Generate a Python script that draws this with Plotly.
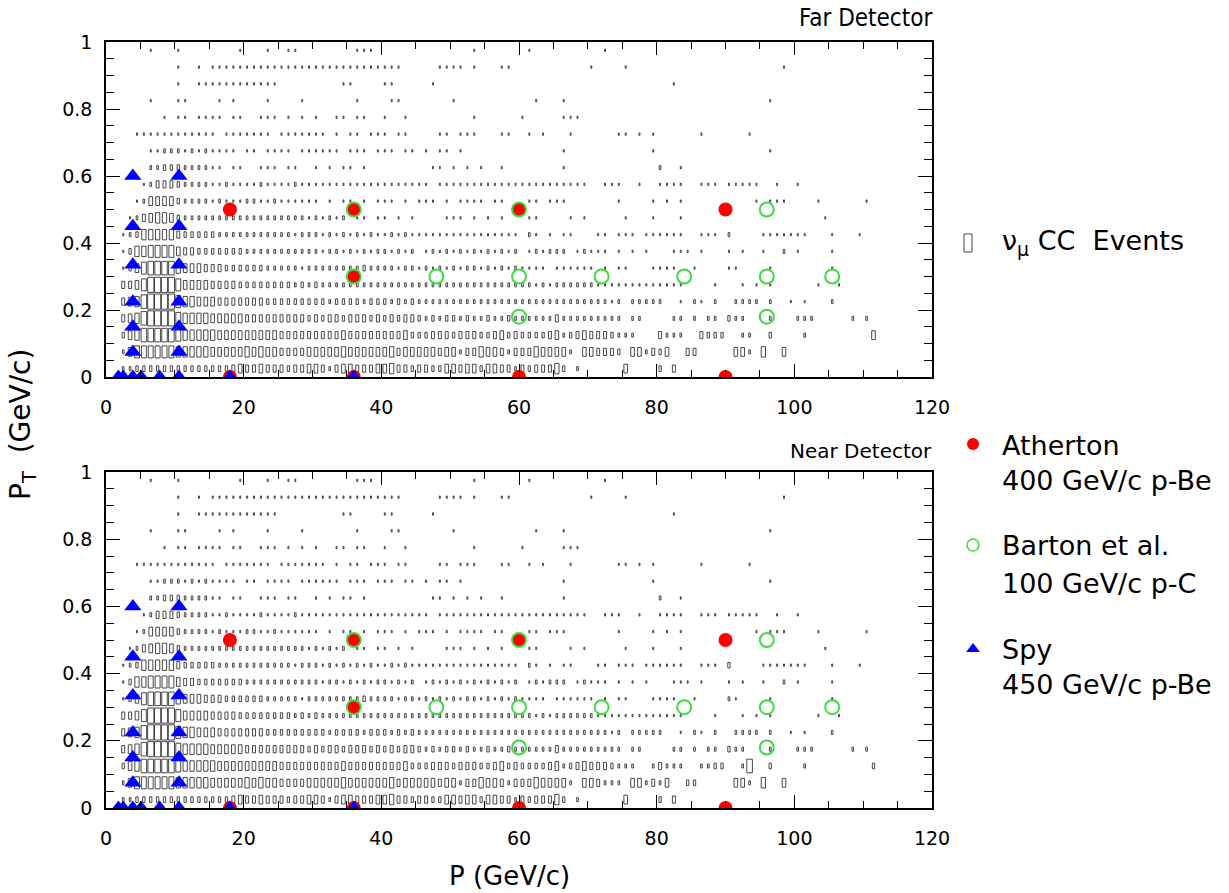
import plotly.graph_objects as go

W, H = 1229, 893
FONT = "DejaVu Sans"
COND_FONT = "DejaVu Sans Condensed, DejaVu Sans"

# ---------------- data ----------------
P_BIN = 1.0          # GeV/c per bin
PT_BIN = 0.05        # GeV/c per bin
N_P_BINS = 120

# Box sizes (0-9) of the nu_mu CC event histogram, Far Detector.
# One string per PT bin (row 0 = 0-0.05 GeV/c), one digit per 1 GeV/c P bin.
FAR_ROWS = [
    "0022333333 3333333345 4454443445 5424554445 5644344335 5455355442 4344463020 0000050000 3040000000 0000000000 0000000000 0000000000",
    "0025777777 6666655555 6565544445 5555655555 5645555545 5244655424 4465555205 5444305524 3500440000 0552060050 0000000000 0000000000",
    "0035688888 7666665555 5555544444 4444544444 4445333444 3444334534 3333452345 4443222000 4222004333 0022003000 0200000000 0500000000",
    "0045689999 7666655555 4444444443 4344344434 3434432323 3232232232 2222242222 2222202200 0022020220 3220002000 2220000020 2000000000",
    "0045689999 7665554444 4443333333 3323333233 3232322222 2222222222 2222222222 2221202222 2001021020 0222202001 0100020000 0000000000",
    "0044579999 7555544443 3333333232 3222222222 2222222222 2222222222 2212122222 2111111111 1111000010 0010101000 0001001000 0000000000",
    "0013578888 6555444333 3332222212 2222222322 2212212121 2122121212 1111011111 1010110001 1110010000 1100001000 0000010000 0000000000",
    "0013667777 5443333333 2222222222 2122121212 2121201212 1212121212 0121222012 1110101010 0011101000 1010010020 1000010000 0000000000",
    "0012366666 4333332222 2222222122 2121212121 1212111111 1111111111 0210101100 0110111011 1111001110 2000011111 1100010001 0000000000",
    "0001245665 3222222222 2222222221 2121201101 1010100001 1101010100 0110000101 0000010001 0001000000 0000000000 0000100000 0000000000",
    "0000125555 3222212111 2211211111 1010110101 1101011101 0111101100 0110111000 0000100001 0101000000 0000101110 0001000000 1000000000",
    "0000012444 3222211211 1121111211 1111111111 1111111011 1111111111 1111111111 0011100100 1111001110 1111100100 1000000000 0000000000",
    "0000002233 3222211011 0011101100 1010110100 0000000110 1010100100 0000001000 0000000000 2001000000 0000000000 0000000000 0000000000",
    "0000001122 2121211110 1101111011 1111011101 1101101011 0100000000 0000001000 0000000001 0000000000 0000001000 0000000000 0000000000",
    "0000111111 1111110111 1111011111 1101011011 1011000011 0111000110 0101000100 0000110101 0000001000 0001000000 0000000000 0000000000",
    "0000000010 1101111011 0011101010 1001101100 1001000000 0001000000 1000001110 0000000000 0000000000 0000000000 0000000000 0000000000",
    "0000001000 1100001010 0001000010 0000001000 0110000000 1000000000 0010001000 0000000000 0000000000 0000001000 0000000000 0000000000",
    "0000000000 1001111111 1111100000 0000110000 1100000100 0000000000 0000000000 0000000000 0010000000 0000000000 0000000000 0000000000",
    "0000000000 1001011111 1111111111 1111111111 1110000011 1101000110 0000000000 1000010000 0000000000 0000000010 0000000000 0000000000",
    "0000001000 1000000001 0001001100 0000001110 0000000000 0001000000 0100000000 0010000000 0000000000 0000000000 0000000000 0000000000",
]

# Near Detector histogram: same as far except these (PT row, P bin, size) cells
NEAR_OVERRIDES = [
    (1, 72, 2), (1, 73, 2), (1, 74, 2), (1, 80, 2), (1, 84, 3), (1, 85, 3),
    (2, 79, 2), (2, 86, 2), (2, 87, 2), (2, 93, 8), (2, 111, 3),
    (6, 90, 2), (7, 90, 1), (8, 90, 3),
]

ATHERTON_P = [18, 36, 60, 90, 36, 18, 36, 60, 90]
ATHERTON_PT = [0.5, 0.5, 0.5, 0.5, 0.3, 0.0, 0.0, 0.0, 0.0]

BARTON_P = [36, 60, 96, 36, 48, 60, 72, 84, 96, 105.5, 60, 96]
BARTON_PT = [0.5, 0.5, 0.5, 0.3, 0.3, 0.3, 0.3, 0.3, 0.3, 0.3, 0.18, 0.18]

SPY_P = [3.9, 3.9, 3.9, 3.9, 3.9, 3.9,
         10.6, 10.6, 10.6, 10.6, 10.6, 10.6,
         1.8, 2.5, 3.9, 5.1, 7.8, 10.6, 18, 36]
SPY_PT = [0.075, 0.15, 0.225, 0.335, 0.45, 0.6,
          0.075, 0.15, 0.225, 0.335, 0.45, 0.6,
          0, 0, 0, 0, 0, 0, 0, 0]

PANEL_TITLES = ["Far Detector", "Near Detector"]
LEGEND_LINES = [
    ["ν<sub>μ</sub> CC  Events"],
    ["Atherton", "400 GeV/c p-Be"],
    ["Barton et al.", "100 GeV/c p-C"],
    ["Spy", "450 GeV/c p-Be"],
]

# ---------------- helpers ----------------
def parse(rows):
    grid = []
    for r in rows:
        s = r.replace(" ", "")
        s = (s + "0" * N_P_BINS)[:N_P_BINS]
        grid.append([int(c) for c in s])
    return grid


far = parse(FAR_ROWS)
near = [row[:] for row in far]
for j, i, lev in NEAR_OVERRIDES:
    near[j][i] = lev


def box_fraction(lev):
    # fraction of the bin covered by a box of the given size class
    return 0.05 + 0.095 * lev


def box_path(grid):
    xs, ys = [], []
    for j, row in enumerate(grid):
        for i, lev in enumerate(row):
            if lev == 0:
                continue
            f = box_fraction(lev)
            xc = (i + 0.5) * P_BIN
            yc = (j + 0.5) * PT_BIN
            hw = 0.5 * P_BIN * f
            hh = 0.5 * PT_BIN * f
            xs += [xc - hw, xc + hw, xc + hw, xc - hw, xc - hw, None]
            ys += [yc - hh, yc - hh, yc + hh, yc + hh, yc - hh, None]
    return xs, ys


def px_x(px):
    return px / W


def px_y(py):
    return 1 - py / H


RED = "#ff0000"
GREEN = "#3fdc3f"
BLUE = "#0000ff"

fig = go.Figure()

for k, grid in enumerate([far, near]):
    xa = "x" if k == 0 else "x2"
    ya = "y" if k == 0 else "y2"
    bx, by = box_path(grid)
    fig.add_trace(go.Scatter(x=bx, y=by, mode="lines", xaxis=xa, yaxis=ya,
                             line=dict(color="#333333", width=0.9),
                             hoverinfo="skip", showlegend=False))
    fig.add_trace(go.Scatter(x=ATHERTON_P, y=ATHERTON_PT, mode="markers",
                             xaxis=xa, yaxis=ya, showlegend=False,
                             marker=dict(symbol="circle", size=14, color=RED,
                                         line=dict(width=0))))
    fig.add_trace(go.Scatter(x=BARTON_P, y=BARTON_PT, mode="markers",
                             xaxis=xa, yaxis=ya, showlegend=False,
                             marker=dict(symbol="circle-open", size=14,
                                         color=GREEN, line=dict(width=2, color=GREEN))))
    fig.add_trace(go.Scatter(x=SPY_P, y=SPY_PT, mode="markers",
                             xaxis=xa, yaxis=ya, showlegend=False,
                             marker=dict(symbol="triangle-up", size=15, color=BLUE,
                                         line=dict(width=0))))

# legend keys on an overlay axis in pixel units
KEY_X = 973
KEY_Y = [444, 545, 649]
key_styles = [
    dict(symbol="circle", size=12, color=RED, line=dict(width=0)),
    dict(symbol="circle-open", size=12, color=GREEN, line=dict(width=1.5, color=GREEN)),
    dict(symbol="triangle-up", size=12, color=BLUE, line=dict(width=0)),
]
for ky, st in zip(KEY_Y, key_styles):
    fig.add_trace(go.Scatter(x=[KEY_X], y=[ky], mode="markers", xaxis="x3", yaxis="y3",
                             marker=st, showlegend=False, hoverinfo="skip",
                             cliponaxis=False))

X_DOMAIN = [px_x(106), px_x(932)]
TOP_DOMAIN = [px_y(377), px_y(42)]
BOT_DOMAIN = [px_y(808), px_y(472)]

tickfont = dict(family=FONT, size=19, color="black")


def xaxis(anchor):
    return dict(domain=X_DOMAIN, anchor=anchor, range=[0, 120], tickmode="linear",
                tick0=0, dtick=20, ticks="inside", ticklen=13, tickwidth=1.2,
                tickcolor="black", showline=True, linecolor="black", linewidth=1.6,
                mirror="ticks", showgrid=False, zeroline=False, tickfont=tickfont,
                ticklabelstandoff=12, automargin=False,
                minor=dict(tick0=0, dtick=5, ticks="inside", ticklen=7,
                           tickcolor="black", tickwidth=1, showgrid=False))


def yaxis(anchor, domain):
    return dict(domain=domain, anchor=anchor, range=[0, 1], tickmode="linear",
                tick0=0, dtick=0.2, ticks="inside", ticklen=14, tickwidth=1.2,
                tickcolor="black", showline=True, linecolor="black", linewidth=1.6,
                mirror="ticks", showgrid=False, zeroline=False, tickfont=tickfont,
                ticklabelstandoff=8, automargin=False,
                minor=dict(tick0=0, dtick=0.05, ticks="inside", ticklen=8,
                           tickcolor="black", tickwidth=1, showgrid=False))


annotations = []
title_fonts = [dict(family=COND_FONT, size=24, color="black"),
               dict(family=FONT, size=20, color="black")]
for title, py, tf in zip(PANEL_TITLES, [18, 451], title_fonts):
    annotations.append(dict(text=title, x=px_x(934), y=px_y(py), xref="paper", yref="paper",
                            xanchor="right", yanchor="middle", showarrow=False, font=tf))
annotations.append(dict(text="P<sub>T</sub>  (GeV/c)", x=px_x(22), y=px_y(425),
                        xref="paper", yref="paper", textangle=-90, showarrow=False,
                        xanchor="center", yanchor="middle",
                        font=dict(family=FONT, size=28, color="black")))
annotations.append(dict(text="P (GeV/c)", x=px_x(510), y=px_y(876),
                        xref="paper", yref="paper", showarrow=False,
                        xanchor="center", yanchor="middle",
                        font=dict(family=FONT, size=26, color="black")))

legend_text_y = [[243], [445, 481], [545, 583], [649, 684]]
for lines, ys in zip(LEGEND_LINES, legend_text_y):
    for txt, py in zip(lines, ys):
        annotations.append(dict(text=txt, x=px_x(1000), y=px_y(py), xref="paper",
                                yref="paper", xanchor="left", yanchor="middle",
                                showarrow=False,
                                font=dict(family=FONT, size=27, color="black")))

shapes = [dict(type="rect", xref="x3", yref="y3", x0=964, x1=972, y0=234, y1=252,
               line=dict(color="#444", width=1), fillcolor="rgba(0,0,0,0)")]

fig.update_layout(
    width=W, height=H,
    margin=dict(l=0, r=0, t=0, b=0, pad=0, autoexpand=False),
    paper_bgcolor="white", plot_bgcolor="rgba(0,0,0,0)",
    showlegend=False,
    xaxis=xaxis("y"), yaxis=yaxis("x", TOP_DOMAIN),
    xaxis2=xaxis("y2"), yaxis2=yaxis("x2", BOT_DOMAIN),
    xaxis3=dict(domain=[0, 1], anchor="y3", range=[0, W], visible=False,
                fixedrange=True, automargin=False),
    yaxis3=dict(domain=[0, 1], anchor="x3", range=[H, 0], visible=False,
                fixedrange=True, automargin=False),
    annotations=annotations,
    shapes=shapes,
)

fig.write_html("out.html")
